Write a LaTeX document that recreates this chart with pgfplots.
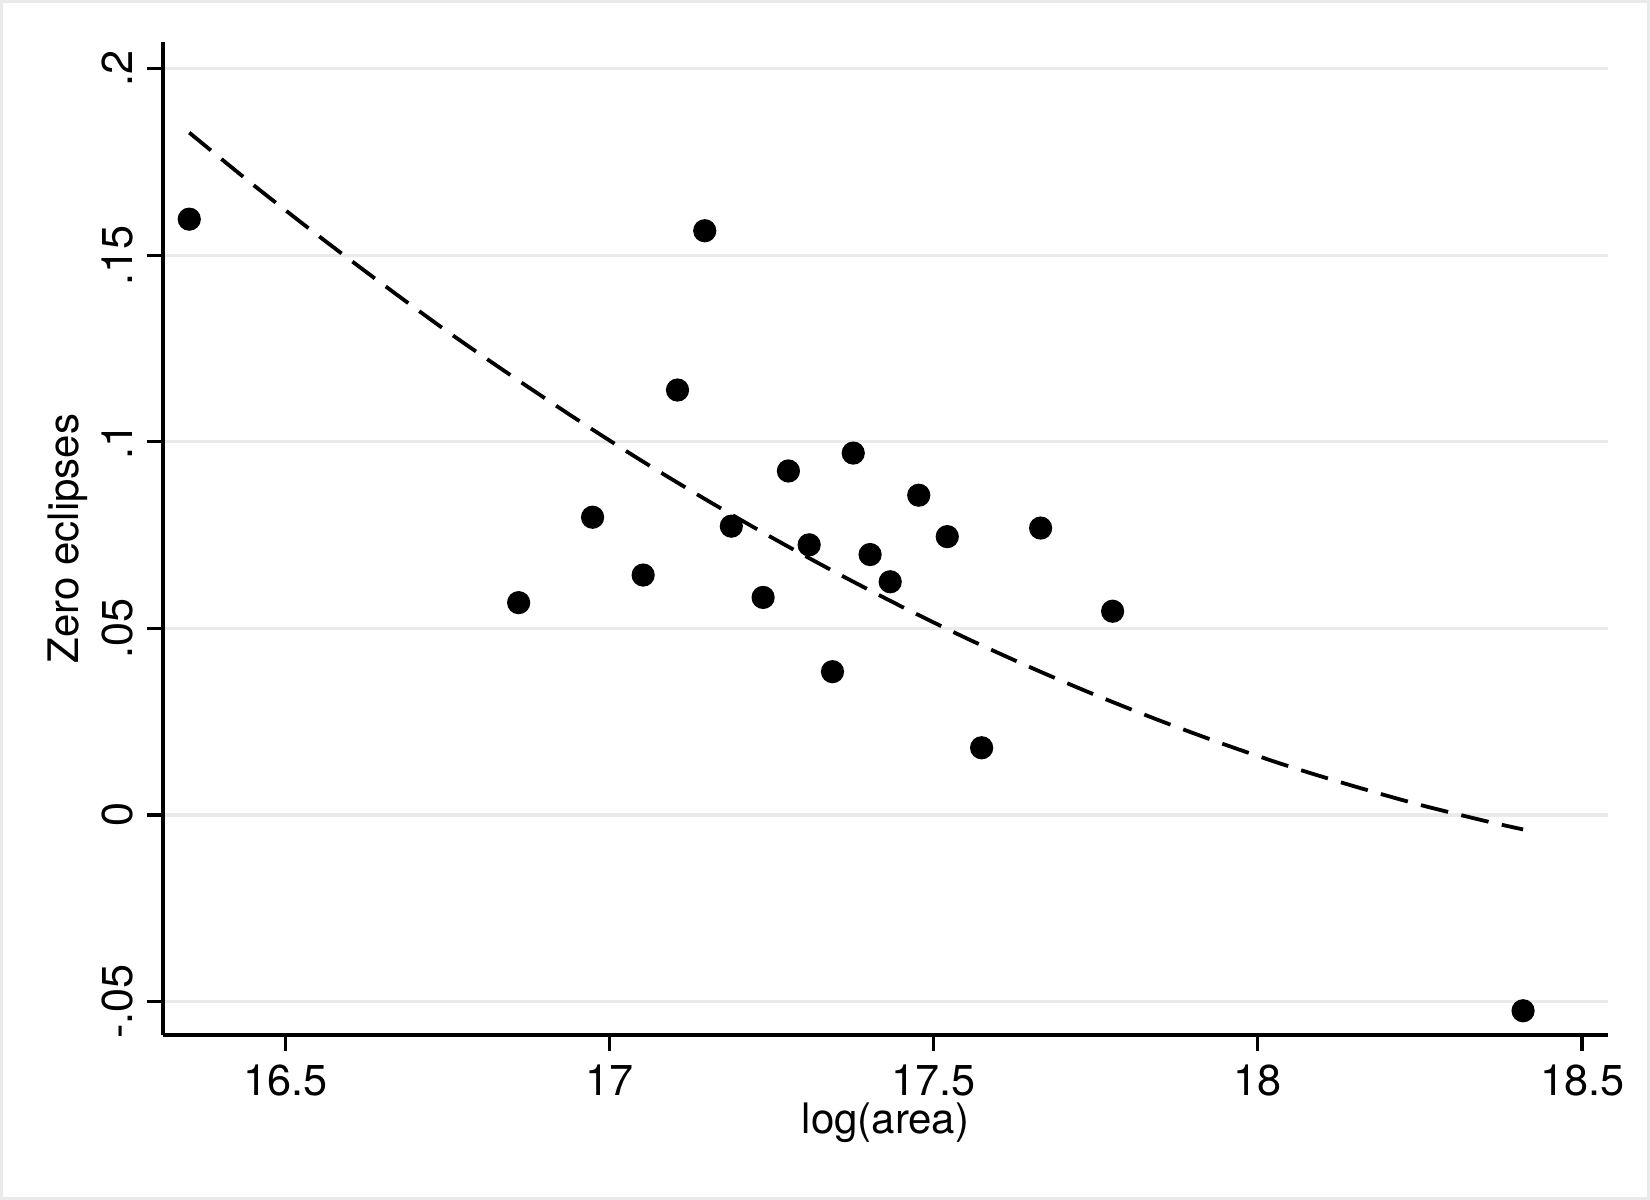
\documentclass[border=0pt]{standalone}
\usepackage{fontspec}
\setmainfont{TeX Gyre Heros}
\usepackage{pgfplots}
\pgfplotsset{compat=1.18}
\definecolor{gridgray}{HTML}{EAEAEA}
\begin{document}
\begin{tikzpicture}
\draw[gridgray, line width=0.8pt] (0.4pt,0.4pt) rectangle (412.1pt,299.6pt);
\begin{axis}[
  at={(40.75pt,41.25pt)}, anchor=south west,
  scale only axis, width=361.25pt, height=248.25pt,
  xmin=16.3115, xmax=18.54, ymin=-0.059, ymax=0.2072,
  axis lines=left, axis line style={line width=0.8pt, -},
  xtick={16.5,17,17.5,18,18.5},
  xticklabels={16.5,17,17.5,18,18.5},
  ytick={-0.05,0,0.05,0.1,0.15,0.2},
  yticklabels={-.05,0,.05,.1,.15,.2},
  ymajorgrids, grid style={gridgray, line width=0.8pt},
  tick style={black, line width=0.8pt},
  major tick length=4pt, tick align=outside,
  ticklabel style={font=\fontsize{10.8}{12}\selectfont},
  yticklabel style={rotate=90, anchor=south},
  /pgf/number format/assume math mode=true,
  label style={font=\fontsize{10.5}{12}\selectfont},
  xlabel={log(area)}, ylabel={Zero eclipses},
  xlabel style={at={(axis description cs:0.5,0)}, anchor=center, yshift=-22pt},
  ylabel style={at={([xshift=-23.75pt]axis description cs:0,0.5)}, anchor=center},
  clip=false,
]
\addplot[black, line width=0.95pt, dash pattern=on 7pt off 3.4pt, smooth] coordinates {
(16.352,0.1829) (16.45,0.1690) (16.55,0.1554) (16.65,0.1423) (16.75,0.1296)
(16.85,0.1176) (16.95,0.1060) (17.05,0.0949) (17.15,0.0844) (17.25,0.0744)
(17.35,0.0649) (17.45,0.0559) (17.55,0.0474) (17.65,0.0395) (17.75,0.0321)
(17.85,0.0252) (17.95,0.0188) (18.05,0.0129) (18.15,0.0076) (18.25,0.0027)
(18.35,-0.0016) (18.409,-0.0039)
};
\addplot[only marks, mark=*, mark size=2.7pt, black] coordinates {
(16.352,0.1597) (16.860,0.0569) (16.974,0.0798) (17.052,0.0643) (17.105,0.1139)
(17.147,0.1566) (17.188,0.0774) (17.237,0.0583) (17.276,0.0922) (17.308,0.0724)
(17.344,0.0384) (17.376,0.0970) (17.402,0.0698) (17.433,0.0625) (17.477,0.0857)
(17.521,0.0746) (17.574,0.0180) (17.665,0.0769) (17.776,0.0546) (18.409,-0.0525)
};
\end{axis}
\end{tikzpicture}
\end{document}
